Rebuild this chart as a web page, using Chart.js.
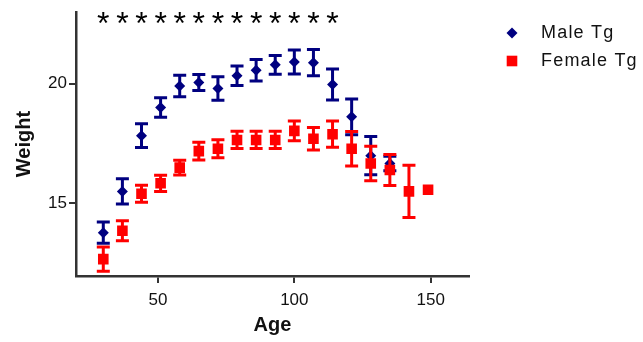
<!DOCTYPE html>
<html>
<head>
<meta charset="utf-8">
<script src="https://cdn.jsdelivr.net/npm/chart.js@4/dist/chart.umd.min.js"></script>
<style>
  html, body { margin: 0; padding: 0; background: #fff; }
</style>
</head>
<body>
<canvas id="weightChart" width="643" height="342"></canvas>
<script>
// age in days, mean weight and SEM for each group
const ages = [30, 37, 44, 51, 58, 65, 72, 79, 86, 93, 100, 107, 114, 121, 128, 135, 142, 149];
const maleMean = [13.75, 15.48, 17.82, 19.0, 19.9, 20.05, 19.8, 20.33, 20.56, 20.79, 20.91, 20.88, 19.97, 18.61, 16.98, 16.65];
const maleSem = [0.45, 0.53, 0.5, 0.41, 0.45, 0.34, 0.49, 0.41, 0.45, 0.39, 0.5, 0.55, 0.65, 0.75, 0.8, 0.3];
const femaleMean = [12.64, 13.83, 15.38, 15.82, 16.48, 17.17, 17.27, 17.64, 17.64, 17.64, 18.02, 17.69, 17.88, 17.27, 16.65, 16.38, 15.48, 15.55];
const femaleSem = [0.51, 0.42, 0.36, 0.34, 0.31, 0.37, 0.38, 0.36, 0.36, 0.36, 0.41, 0.47, 0.55, 0.72, 0.72, 0.65, 1.1, 0];
// ages where male and female differ significantly
const starAges = [30, 37, 44, 51, 58, 65, 72, 79, 86, 93, 100, 107, 114];
const starLevel = 22.6;
const xTicks = [50, 100, 150];
const yTicks = [15, 20];

const AXIS = '#333333';
const FONT = "'Liberation Sans', Arial, sans-serif";
Chart.defaults.font.family = FONT;
Chart.defaults.color = '#111';

const points = (means) => means.map((v, i) => ({ x: ages[i], y: v }));

const errorBars = {
  id: 'errorBars',
  afterDatasetDraw(chart, args) {
    const ds = chart.data.datasets[args.index];
    if (!ds.sem) return;
    const { ctx, scales: { x, y } } = chart;
    ctx.save();
    ctx.strokeStyle = ds.borderColor;
    ctx.lineWidth = 3;
    ds.data.forEach((p, i) => {
      const e = ds.sem[i];
      if (!e) return;
      const px = x.getPixelForValue(p.x);
      const top = y.getPixelForValue(p.y + e);
      const bot = y.getPixelForValue(p.y - e);
      ctx.beginPath();
      ctx.moveTo(px, top); ctx.lineTo(px, bot);
      ctx.moveTo(px - 6.5, top); ctx.lineTo(px + 6.5, top);
      ctx.moveTo(px - 6.5, bot); ctx.lineTo(px + 6.5, bot);
      ctx.stroke();
    });
    ctx.restore();
  }
};

const stars = {
  id: 'stars',
  afterDatasetsDraw(chart) {
    const { ctx, scales: { x, y } } = chart;
    ctx.save();
    ctx.fillStyle = '#000';
    ctx.font = '32px ' + FONT;
    ctx.textAlign = 'center';
    ctx.textBaseline = 'middle';
    starAges.forEach(a => ctx.fillText('*', x.getPixelForValue(a), y.getPixelForValue(starLevel) + 3));
    ctx.restore();
  }
};

// legend box off to the right of the plot
const sideLegend = {
  id: 'sideLegend',
  afterDraw(chart) {
    const ctx = chart.ctx;
    const left = chart.chartArea.right + 43;
    ctx.save();
    ctx.font = '18px ' + FONT;
    ctx.letterSpacing = '1.2px';
    ctx.textBaseline = 'middle';
    ctx.fillStyle = '#111';
    chart.data.datasets.slice().reverse().forEach((ds, i) => {
      const cy = 33 + i * 28;
      ctx.save();
      ctx.fillStyle = ds.backgroundColor;
      ctx.strokeStyle = ds.borderColor;
      Chart.helpers.drawPoint(ctx, { pointStyle: ds.pointStyle, radius: ds.pointRadius, rotation: 0, borderWidth: 0 }, left, cy);
      ctx.restore();
      ctx.fillText(ds.label, left + 29, cy);
    });
    ctx.restore();
  }
};

new Chart(document.getElementById('weightChart'), {
  type: 'scatter',
  data: {
    datasets: [
      {
        label: 'Female Tg',
        data: points(femaleMean),
        sem: femaleSem,
        backgroundColor: '#ff0000',
        borderColor: '#ff0000',
        pointStyle: 'rect',
        pointRadius: 7.5,
        borderWidth: 0,
        order: 0
      },
      {
        label: 'Male Tg',
        data: points(maleMean),
        sem: maleSem,
        backgroundColor: '#000080',
        borderColor: '#000080',
        pointStyle: 'rectRot',
        pointRadius: 5.5,
        borderWidth: 0,
        order: 1
      }
    ]
  },
  options: {
    responsive: false,
    animation: false,
    layout: { padding: { top: 8, right: 174, left: 0, bottom: 0 } },
    plugins: { legend: { display: false }, tooltip: { enabled: false } },
    scales: {
      x: {
        type: 'linear',
        min: 20,
        max: 164,
        afterBuildTicks: s => { s.ticks = xTicks.map(v => ({ value: v })); },
        afterFit: s => { s.height = 66; },
        grid: { drawOnChartArea: false, drawTicks: true, tickLength: 7, color: AXIS, lineWidth: 2 },
        border: { color: AXIS, width: 2.5 },
        ticks: { font: { size: 17 }, padding: 7, color: '#111', maxRotation: 0 },
        title: { display: true, text: 'Age', font: { size: 20, weight: 'bold' }, color: '#111', padding: { top: 0, bottom: 5 } }
      },
      y: {
        min: 11.93,
        max: 23,
        afterBuildTicks: s => { s.ticks = yTicks.map(v => ({ value: v })); },
        afterFit: s => { s.width = 76; },
        grid: { drawOnChartArea: false, drawTicks: true, tickLength: 7, color: AXIS, lineWidth: 2 },
        border: { color: AXIS, width: 2.5 },
        ticks: { font: { size: 17 }, padding: 2, color: '#111' },
        title: { display: true, text: 'Weight', font: { size: 20, weight: 'bold' }, color: '#111', padding: { top: 12, bottom: 0 } }
      }
    }
  },
  plugins: [errorBars, stars, sideLegend]
});
</script>
</body>
</html>
